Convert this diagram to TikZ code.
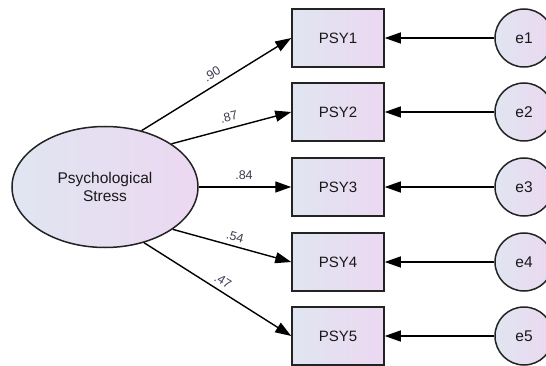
\documentclass[tikz,border=0pt]{standalone}
\usepackage{fontspec}
\setmainfont{Liberation Sans}
\usetikzlibrary{arrows.meta,shapes.geometric}

\definecolor{fillL}{RGB}{224,229,241}
\definecolor{fillR}{RGB}{236,216,241}
\definecolor{edge}{RGB}{35,35,35}
\definecolor{coef}{RGB}{60,60,80}

\tikzset{
  latent/.style={ellipse, draw=edge, line width=1.5pt, left color=fillL, right color=fillR,
    minimum width=186pt, minimum height=121pt, inner sep=0pt, align=center,
    font=\fontsize{15.5}{18}\selectfont, text=black!90},
  indicator/.style={rectangle, draw=edge, line width=1.5pt, left color=fillL, right color=fillR,
    minimum width=92pt, minimum height=58pt, inner sep=0pt,
    font=\fontsize{15}{18}\selectfont, text=black!90},
  errterm/.style={circle, draw=edge, line width=1.5pt, left color=fillL, right color=fillR,
    minimum size=58pt, inner sep=0pt,
    font=\fontsize{15.5}{18}\selectfont, text=black!90},
  path/.style={draw=black, line width=1.4pt, -{Triangle[length=16pt,width=11pt]}},
  loading/.style={font=\fontsize{12.5}{14}\selectfont, text=coef, inner sep=1pt}
}

\begin{document}
\begin{tikzpicture}[x=1pt, y=-1pt]
  \clip (0,0) rectangle (546,366);

  % latent factor
  \node[latent] (ps) at (105,187) {Psychological\\Stress};

  % observed indicators
  \node[indicator] (p1) at (338,38)  {PSY1};
  \node[indicator] (p2) at (338,112) {PSY2};
  \node[indicator] (p3) at (338,187) {PSY3};
  \node[indicator] (p4) at (338,262) {PSY4};
  \node[indicator] (p5) at (338,336) {PSY5};

  % error terms
  \node[errterm] (e1) at (524,38)  {e1};
  \node[errterm] (e2) at (524,112) {e2};
  \node[errterm] (e3) at (524,187) {e3};
  \node[errterm] (e4) at (524,262) {e4};
  \node[errterm] (e5) at (524,336) {e5};

  % factor loadings
  \draw[path] (ps.57)  -- (p1.west);
  \draw[path] (ps.33)  -- (p2.west);
  \draw[path] (ps.east) -- (p3.west);
  \draw[path] (ps.-32) -- (p4.west);
  \draw[path] (ps.-55) -- (p5.west);

  % error paths
  \foreach \i in {1,...,5}
    \draw[path] (e\i.west) -- (p\i.east);

  % loading coefficients
  \node[loading, rotate=31.5] (c1) at (212,74)  {.90};
  \node[loading, rotate=14]   (c2) at (229,117) {.87};
  \node[loading]              (c3) at (244,175) {.84};
  \node[loading, rotate=-15]  (c4) at (235,237) {.54};
  \node[loading, rotate=-32]  (c5) at (223,281) {.47};
\end{tikzpicture}
\end{document}
